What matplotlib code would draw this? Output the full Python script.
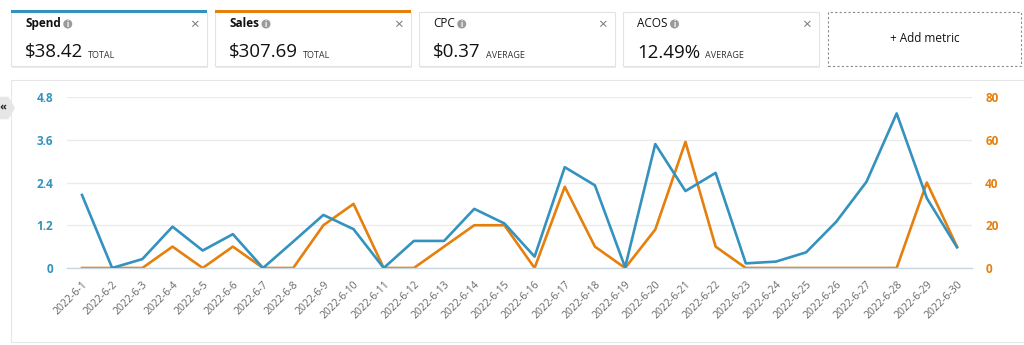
import matplotlib
matplotlib.use("Agg")
import matplotlib.pyplot as plt
from matplotlib.patches import Rectangle, Ellipse, Polygon
import math

plt.rcParams['font.family'] = ['Open Sans', 'DejaVu Sans']

# ---- data ----
dates = [f"2022-6-{d}" for d in range(1, 31)]
spend = [2.05, 0.0, 0.25, 1.16, 0.49, 0.95, 0.0, 0.74, 1.49, 1.09,
         0.0, 0.76, 0.76, 1.66, 1.25, 0.32, 2.83, 2.32, 0.02, 3.48,
         2.16, 2.67, 0.13, 0.18, 0.44, 1.30, 2.42, 4.34, 1.96, 0.58]
sales = [0, 0, 0, 10, 0, 10, 0, 0, 20, 30,
         0, 0, 10, 20, 20, 0, 38, 10, 0, 18,
         59, 10, 0, 0, 0, 0, 0, 0, 40, 10]
left_ticks = [0, 1.2, 2.4, 3.6, 4.8]
left_labels = ["0", "1.2", "2.4", "3.6", "4.8"]
right_ticks = [0, 20, 40, 60, 80]
right_labels = ["0", "20", "40", "60", "80"]

cards = [
    ("Spend", "$38.42", "TOTAL"),
    ("Sales", "$307.69", "TOTAL"),
    ("CPC", "$0.37", "AVERAGE"),
    ("ACOS", "12.49%", "AVERAGE"),
]

BLUE = "#3392be"
ORANGE = "#e5800e"

W, H = 1024, 345
fig = plt.figure(figsize=(W / 100, H / 100), dpi=100)
fig.patch.set_facecolor("white")
renderer = fig.canvas.get_renderer()


def fx(x):
    return x / W


def fy(y):
    return 1 - y / H


def frect(x0, y0, x1, y1, **kw):
    r = Rectangle((fx(x0), fy(y1)), fx(x1) - fx(x0), fy(y0) - fy(y1),
                  transform=fig.transFigure, **kw)
    fig.add_artist(r)
    return r


def right_px(t):
    bb = t.get_window_extent(renderer=renderer)
    return bb.x1


# ---- cards ----
card_x = [11, 215, 419, 623]
card_w = 196
top_colors = [BLUE, ORANGE, None, None]
for i, (name, val, kind) in enumerate(cards):
    x0 = card_x[i]
    frect(x0 + 1, 13, x0 + card_w + 1, 67.5, facecolor="#ececec", edgecolor="none", zorder=1)
    frect(x0, 12, x0 + card_w, 66, facecolor="white", edgecolor="#e3e3e3", lw=0.8, zorder=2)
    if top_colors[i]:
        frect(x0, 10, x0 + card_w, 13, facecolor=top_colors[i], edgecolor="none", zorder=3)
    bold = "bold" if i < 2 else "normal"
    t = fig.text(fx(x0 + 14), fy(23.5), name, fontsize=8.5, fontweight=bold,
                 color="#111111", va="center", ha="left", zorder=4)
    # info icon
    cx = right_px(t) + 7
    fig.add_artist(Ellipse((fx(cx), fy(24)), 9 / W, 9 / H, transform=fig.transFigure,
                           facecolor="#9a9a9a", edgecolor="none", zorder=4))
    fig.text(fx(cx), fy(24.3), "i", fontsize=5.5, color="white", fontweight="bold",
             ha="center", va="center", zorder=5)
    fig.text(fx(x0 + 183), fy(25), "×", fontsize=11, color="#777777",
             ha="center", va="center", zorder=4)
    tv = fig.text(fx(x0 + 14), fy(52.5), val, fontsize=13.5, color="#111111",
                  ha="left", va="center", zorder=4)
    fig.text(fx(right_px(tv) + 5), fy(55), kind, fontsize=6.5,
             color="#333333", ha="left", va="center", zorder=4)

# add metric dashed box
frect(828, 12, 1021, 66, facecolor="white", edgecolor="#8a8a8a", lw=0.8,
      linestyle=(0, (2, 2)), zorder=2)
fig.text(fx(925), fy(38.5), "+ Add metric", fontsize=8.5, color="#111111",
         ha="center", va="center", zorder=4)

# ---- chart panel ----
frect(11, 80, 1030, 342, facecolor="white", edgecolor="#e6e6e6", lw=0.8, zorder=0)
# collapse tab (hexagon, partly off-canvas)
hx, hy, hr = 2, 108, 13
pts = [(fx(hx + hr * math.cos(math.radians(a))), fy(hy + hr * math.sin(math.radians(a))))
       for a in range(0, 360, 60)]
fig.add_artist(Polygon(pts, closed=True, transform=fig.transFigure,
                       facecolor="#e6e6e6", edgecolor="none", zorder=1))
fig.text(fx(3), fy(107), "«", fontsize=8, color="#222222", ha="center",
         va="center", zorder=2, fontweight="bold")

ax_l, ax_r, ax_t, ax_b = 67, 972, 97, 268
ax = fig.add_axes([fx(ax_l), fy(ax_b), fx(ax_r) - fx(ax_l), fy(ax_t) - fy(ax_b)])
xs = list(range(len(dates)))
x_pad = 15 / ((ax_r - ax_l - 30) / (len(dates) - 1))
ax.set_xlim(-x_pad, len(dates) - 1 + x_pad)
ax.set_ylim(0, 4.8)
ax.plot(xs, spend, color=BLUE, lw=1.9, zorder=3)
ax.set_yticks(left_ticks)
ax.set_yticklabels(left_labels)
for s in ["top", "left", "right"]:
    ax.spines[s].set_visible(False)
ax.spines["bottom"].set_color("#c9d6df")
ax.spines["bottom"].set_linewidth(1)
ax.tick_params(axis="y", length=0, pad=10, labelcolor=BLUE, labelsize=8.5)
for lb in ax.get_yticklabels():
    lb.set_fontweight("bold")
ax.set_xticks(xs)
ax.set_xticklabels(dates, rotation=45, ha="right", rotation_mode="anchor",
                   fontsize=7.5, color="#666666")
ax.tick_params(axis="x", length=0, pad=8)

ax2 = ax.twinx()
ax2.set_ylim(0, 80)
ax2.plot(xs, sales, color=ORANGE, lw=1.9, zorder=2)
ax2.set_yticks(right_ticks)
ax2.set_yticklabels(right_labels)
ax2.grid(axis="y", color="#ebebeb", lw=1)
ax2.set_axisbelow(True)
for s in ["top", "left", "right", "bottom"]:
    ax2.spines[s].set_visible(False)
ax2.tick_params(axis="y", length=0, pad=9.5, labelcolor=ORANGE, labelsize=8.5)
for lb in ax2.get_yticklabels():
    lb.set_fontweight("bold")
ax2.set_facecolor("white")
ax.set_zorder(ax2.get_zorder() + 1)
ax.patch.set_visible(False)

fig.savefig("out.png", dpi=100, facecolor="white")
